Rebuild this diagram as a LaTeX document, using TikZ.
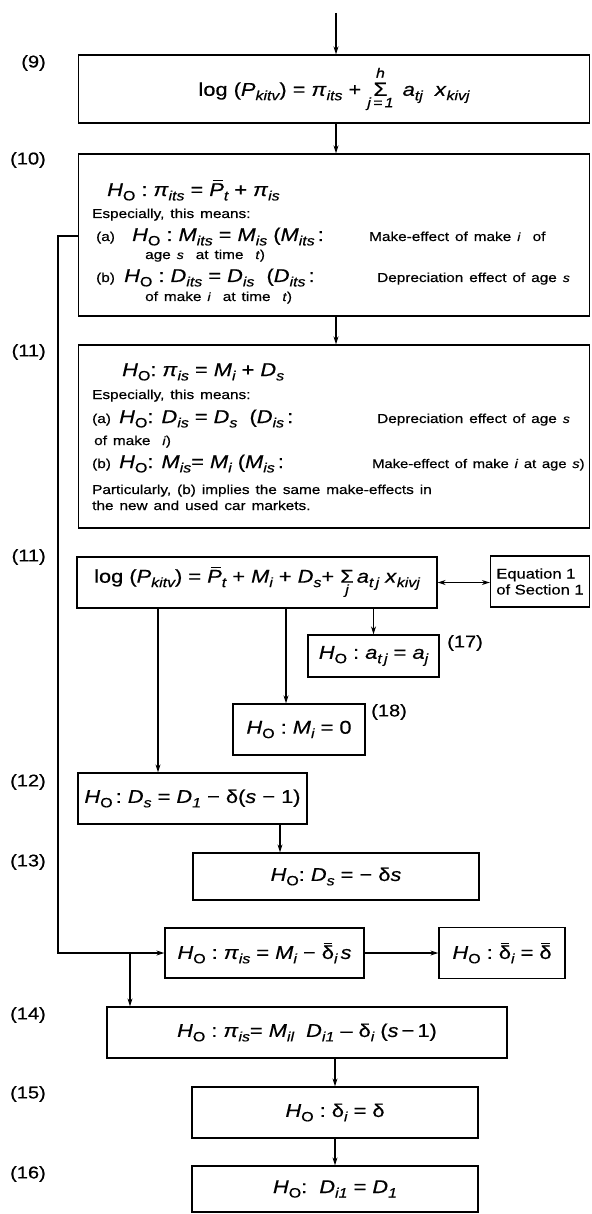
\documentclass[tikz,border=0pt]{standalone}
\usepackage{fontspec}
\setmainfont[FakeStretch=1.18, WordSpace=1.4, FakeBold=0.5]{Liberation Sans}
\newfontfamily\eqfont[FakeStretch=1.18, FakeBold=0.5]{Liberation Sans}
\usetikzlibrary{arrows.meta}
\newcommand\V[1]{\textit{#1}}
\newcommand\Sb[1]{\raisebox{-0.45ex}{\fontsize{13.5}{14}\selectfont\itshape #1}}
\newcommand\Hz{\V{H}\Sb{\upshape O}}
\newcommand\Bar[2][0.25]{{\setbox0=\hbox{#2}\rlap{\hskip#1\wd0\raise\dimexpr\ht0+1.8pt\relax\hbox{\vrule width 0.7\wd0 height 1.1pt depth 0pt}}\box0}}
\newcommand\SmallF{\fontsize{13.5}{14}\selectfont\itshape}
\newcommand\SumHJ{\ensuremath{\mathop{\hbox{\fontsize{19}{19}\selectfont Σ}}\limits^{\raisebox{3pt}{\SmallF h}}_{\raisebox{-3pt}{\SmallF j\,=\,1}}}}
\newcommand\SumJ{\ensuremath{\mathop{\hbox{\fontsize{18.5}{18.5}\selectfont Σ}}\limits_{\raisebox{-3pt}{\SmallF j}}}}
\tikzset{
  every node/.style={font=\fontsize{13}{15}\selectfont},
  eq/.style={font=\eqfont\fontsize{18.5}{20}\selectfont},
  box/.style={draw, line width=1.3pt, inner sep=0pt},
  lbl/.style={anchor=east, inner sep=0pt, font=\eqfont\fontsize{17}{19}\selectfont},
  txt/.style={anchor=base west, inner sep=0pt},
  arr/.style={line width=1.1pt, -{Stealth[length=8pt,width=5pt]}},
  darr/.style={line width=1.1pt, {Stealth[length=8pt,width=5pt]}-{Stealth[length=8pt,width=5pt]}},
}
\begin{document}
\begin{tikzpicture}[x=1pt,y=-1pt]
\useasboundingbox (0,0) rectangle (591,1214);
% boxes
\node[box, eq, minimum width=511, minimum height=68] (b9) at (334,89)
  {log (\V{P}\Sb{kitv}) = \V{π}\Sb{its} + \SumHJ\,\ \V{a}\Sb{tj}\ \ \V{x}\Sb{kivj}};
\node[box, minimum width=511, minimum height=162] (b10) at (334,235) {};
\node[box, minimum width=511, minimum height=183] (b11) at (334,436.5) {};
\node[box, eq, minimum width=360, minimum height=51] (b11b) at (257,582.5)
  {log (\V{P}\Sb{kitv}) = \Bar{\V{P}}\Sb{t} + \V{M}\Sb{i} + \V{D}\Sb{s}+ \SumJ\,\V{a}\Sb{t\,j}\ \V{x}\Sb{kivj}};
\node[box, minimum width=99, minimum height=51, align=left, font=\eqfont\fontsize{14}{16}\selectfont] (beq) at (540,581.5)
  {Equation 1\\of Section 1};
\node[box, eq, minimum width=131, minimum height=42] (b17) at (373.5,656)
  {\Hz\ :\ \V{a}\Sb{t\,j} = \V{a}\Sb{j}};
\node[box, eq, minimum width=132, minimum height=51] (b18) at (299,729.5)
  {\Hz\ :\ \V{M}\Sb{i} = 0};
\node[box, eq, minimum width=229, minimum height=51] (b12) at (192.5,798.5)
  {\Hz\,:\ \V{D}\Sb{s} = \V{D}\Sb{1} − δ(\V{s} − 1)};
\node[box, eq, minimum width=286, minimum height=47] (b13) at (336,876.5)
  {\Hz:\ \V{D}\Sb{s} = − δ\V{s}};
\node[box, eq, minimum width=199, minimum height=50] (bpi) at (264.5,953)
  {\Hz\ :\ \V{π}\Sb{is} = \V{M}\Sb{i} − \Bar[0.15]{δ}\Sb{i}\,\V{s}};
\node[box, eq, minimum width=126, minimum height=51] (bdb) at (502,953)
  {\Hz\ :\ \Bar[0.15]{δ}\Sb{i} = \Bar[0.15]{δ}};
\node[box, eq, minimum width=400, minimum height=51] (b14) at (307,1032.5)
  {\Hz\ :\ \V{π}\Sb{is}= \V{M}\Sb{il}\ \ \V{D}\Sb{i1} – δ\Sb{i} (\V{s}\,−\,1)};
\node[box, eq, minimum width=286, minimum height=51] (b15) at (335,1112.5)
  {\Hz\ :\ δ\Sb{i} = δ};
\node[box, eq, minimum width=286, minimum height=46] (b16) at (335,1189)
  {\Hz:\ \ \V{D}\Sb{i1} = \V{D}\Sb{1}};
% text in box 10
\node[txt, eq] (t10a) at (107,196) {\Hz\ :\ \V{π}\Sb{its} = \Bar{\V{P}}\Sb{t} + \V{π}\Sb{is}};
\node[txt] (t10b) at (92,218) {Especially, this means:};
\node[txt] (t10c) at (96,241) {(a)};
\node[txt, eq] (t10d) at (132,241) {\Hz\ :\ \V{M}\Sb{its} = \V{M}\Sb{is} (\V{M}\Sb{its}\,:};
\node[txt] (t10e) at (369,241) {Make-effect of make \V{\large i} \ of};
\node[txt] (t10f) at (145,259) {age \V{\large s}\ \ at time \ \V{\large t})};
\node[txt] (t10g) at (96,282) {(b)};
\node[txt, eq] (t10h) at (124,282) {\Hz\ :\ \V{D}\Sb{its} = \V{D}\Sb{is} \ (\V{D}\Sb{its}\,:};
\node[txt] (t10i) at (377,282) {Depreciation effect of age \V{\large s}};
\node[txt] (t10j) at (145,301) {of make \V{\large i} \ at time \ \V{\large t})};
% text in box 11
\node[txt, eq] (t11a) at (122,376) {\Hz:\ \V{π}\Sb{is} = \V{M}\Sb{i} + \V{D}\Sb{s}};
\node[txt] (t11b) at (92,399) {Especially, this means:};
\node[txt] (t11c) at (92,423) {(a)};
\node[txt, eq] (t11d) at (119,423) {\Hz: \V{D}\Sb{is} = \V{D}\Sb{s} \ (\V{D}\Sb{is}\,:};
\node[txt] (t11e) at (377,423) {Depreciation effect of age \V{\large s}};
\node[txt] (t11f) at (94,445) {of make \ \V{\large i})};
\node[txt] (t11g) at (92,468) {(b)};
\node[txt, eq] (t11h) at (119,468) {\Hz: \V{M}\Sb{is}= \V{M}\Sb{i} (\V{M}\Sb{is}\,:};
\node[txt, font=\fontsize{12.5}{15}\selectfont] (t11i) at (372,468) {Make-effect of make \V{i} at age \V{s})};
\node[txt] (t11j) at (92,494) {Particularly, (b) implies the same make-effects in};
\node[txt] (t11k) at (92,510) {the new and used car markets.};
% labels
\node[lbl] (l9) at (46,63) {(9)};
\node[lbl] (l10) at (46,160) {(10)};
\node[lbl] (l11) at (46,352) {(11)};
\node[lbl] (l11b) at (46,557) {(11)};
\node[lbl] (l12) at (46,782) {(12)};
\node[lbl] (l13) at (46,862) {(13)};
\node[lbl] (l14) at (46,1015) {(14)};
\node[lbl] (l15) at (46,1094) {(15)};
\node[lbl] (l16) at (46,1174) {(16)};
\node[anchor=west, inner sep=0pt, font=\eqfont\fontsize{17}{19}\selectfont] (l17) at (447,643) {(17)};
\node[anchor=west, inner sep=0pt, font=\eqfont\fontsize{17}{19}\selectfont] (l18) at (371,712) {(18)};
% coordinates
\coordinate (top) at (336,13);
\coordinate (a18) at (286,0);
\coordinate (a12) at (158,0);
\coordinate (a13) at (280,0);
\coordinate (a15) at (335,0);
\coordinate (br1) at (58,236);
\coordinate (br3) at (130,953);
% connectors
\draw[arr] (top) -- (top |- b9.north);
\draw[arr] (b9.south -| top) -- (b10.north -| top);
\draw[arr] (b10.south -| top) -- (b11.north -| top);
\draw[darr] (b11b.east) -- (b11b.east -| beq.west);
\draw[arr] (b11b.south -| b17.north) -- (b17.north);
\draw[arr] (b11b.south -| a18) -- (b18.north -| a18);
\draw[arr] (b11b.south -| a12) -- (b12.north -| a12);
\draw[arr] (b12.south -| a13) -- (b13.north -| a13);
\draw[arr] (b10.west |- br1) -- (br1) |- (bpi.west);
\draw[arr] (bpi.east) -- (bdb.west);
\draw[arr] (br3) -- (br3 |- b14.north);
\draw[arr] (b14.south -| a15) -- (b15.north -| a15);
\draw[arr] (b15.south -| a15) -- (b16.north -| a15);
\end{tikzpicture}
\end{document}
